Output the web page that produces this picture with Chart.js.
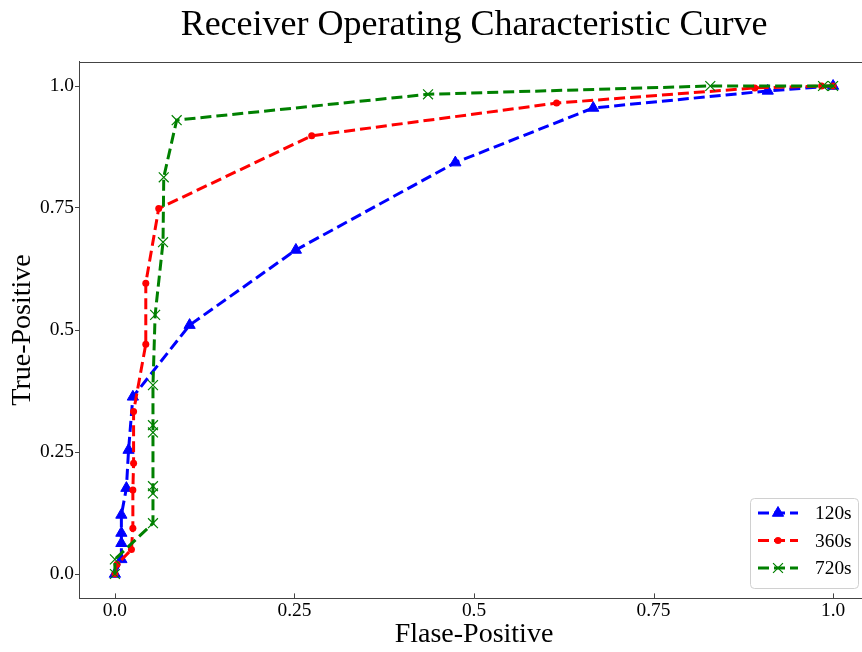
<!DOCTYPE html>
<html>
<head>
<meta charset="utf-8">
<script src="https://cdn.jsdelivr.net/npm/chart.js@4/dist/chart.umd.min.js"></script>
<style>
  html, body { margin: 0; padding: 0; background: #fff; overflow: hidden; }
  #wrap { width: 900px; height: 652px; }
</style>
</head>
<body>
<div id="wrap"><canvas id="roc" width="900" height="652"></canvas></div>
<script>
// ROC points
const fpr120 = [0, 0.009, 0.009, 0.009, 0.009, 0.016, 0.019, 0.025, 0.104, 0.252, 0.474, 0.666, 0.909, 1.0];
const tpr120 = [0, 0.03, 0.063, 0.084, 0.121, 0.176, 0.254, 0.363, 0.51, 0.664, 0.843, 0.955, 0.99, 1.0];

const fpr360 = [0, 0.003, 0.023, 0.025, 0.025, 0.026, 0.026, 0.043, 0.043, 0.061, 0.274, 0.615, 0.891, 0.984, 1.0];
const tpr360 = [0, 0.02, 0.05, 0.094, 0.172, 0.227, 0.333, 0.471, 0.596, 0.749, 0.898, 0.965, 0.996, 1.0, 1.0];

const fpr720 = [0, 0, 0.053, 0.053, 0.053, 0.053, 0.053, 0.053, 0.056, 0.067, 0.068, 0.086, 0.436, 0.829, 0.986, 1.0];
const tpr720 = [0, 0.03, 0.104, 0.165, 0.18, 0.29, 0.305, 0.387, 0.531, 0.68, 0.813, 0.93, 0.983, 1.0, 1.0, 1.0];

const seriesLabels = ['120s', '360s', '720s'];
const xTicks = [0, 0.25, 0.5, 0.75, 1.0];
const xTickLabels = ['0.0', '0.25', '0.5', '0.75', '1.0'];
const yTicks = [0, 0.25, 0.5, 0.75, 1.0];
const yTickLabels = ['0.0', '0.25', '0.5', '0.75', '1.0'];

const pts = (xs, ys) => xs.map((x, i) => ({ x: x, y: ys[i] }));

Chart.defaults.font.family = '"Liberation Serif", "Times New Roman", serif';
Chart.defaults.color = '#000';

const AXIS = '#444';
const DASH = [11, 5];

// top spine, inward x ticks, matplotlib style legend
const frameLegend = {
  id: 'frameLegend',
  afterDatasetsDraw(chart) {
    const ctx = chart.ctx;
    const a = chart.chartArea;
    ctx.save();
    ctx.strokeStyle = AXIS;
    ctx.lineWidth = 1;
    ctx.beginPath();
    ctx.moveTo(a.left, Math.round(a.top) + 0.5);
    ctx.lineTo(a.right, Math.round(a.top) + 0.5);
    const xs = chart.scales.x;
    xTicks.forEach(v => {
      const px = Math.round(xs.getPixelForValue(v)) + 0.5;
      ctx.moveTo(px, xs.top);
      ctx.lineTo(px, xs.top - 5);
    });
    ctx.stroke();

    // legend box
    const bx = 750.5, by = 498.5, bw = 108, bh = 90, r = 4;
    ctx.beginPath();
    ctx.moveTo(bx + r, by);
    ctx.arcTo(bx + bw, by, bx + bw, by + bh, r);
    ctx.arcTo(bx + bw, by + bh, bx, by + bh, r);
    ctx.arcTo(bx, by + bh, bx, by, r);
    ctx.arcTo(bx, by, bx + bw, by, r);
    ctx.closePath();
    ctx.fillStyle = 'rgba(255,255,255,0.8)';
    ctx.fill();
    ctx.strokeStyle = '#d0d0d0';
    ctx.stroke();

    const rows = [513, 540.5, 568];
    chart.data.datasets.forEach((ds, i) => {
      const y = rows[i];
      ctx.strokeStyle = ds.borderColor;
      ctx.lineWidth = ds.borderWidth;
      ctx.setLineDash(DASH);
      ctx.beginPath();
      ctx.moveTo(758, y);
      ctx.lineTo(798, y);
      ctx.stroke();
      ctx.setLineDash([]);
      const mx = 778;
      ctx.fillStyle = ds.pointBackgroundColor;
      ctx.strokeStyle = ds.pointBorderColor;
      ctx.lineWidth = ds.pointBorderWidth;
      const pr = ds.pointRadius;
      ctx.beginPath();
      if (ds.pointStyle === 'triangle') {
        ctx.moveTo(mx, y - pr);
        ctx.lineTo(mx + pr * 0.866, y + pr * 0.5);
        ctx.lineTo(mx - pr * 0.866, y + pr * 0.5);
        ctx.closePath();
        ctx.fill();
        ctx.stroke();
      } else if (ds.pointStyle === 'circle') {
        ctx.arc(mx, y, pr, 0, Math.PI * 2);
        ctx.fill();
      } else {
        const d = pr * 0.7071;
        ctx.moveTo(mx - d, y - d); ctx.lineTo(mx + d, y + d);
        ctx.moveTo(mx + d, y - d); ctx.lineTo(mx - d, y + d);
        ctx.stroke();
      }
      ctx.fillStyle = '#000';
      ctx.font = '19.4px "Liberation Serif", serif';
      ctx.textBaseline = 'middle';
      ctx.textAlign = 'left';
      ctx.fillText(ds.label, 815, y + 1);
    });
    ctx.restore();
  }
};

new Chart(document.getElementById('roc'), {
  type: 'scatter',
  data: {
    datasets: [
      {
        label: seriesLabels[0],
        data: pts(fpr120, tpr120),
        showLine: true, borderColor: '#0000ff', borderWidth: 3, borderDash: DASH,
        pointStyle: 'triangle', pointRadius: 6.5, pointBorderWidth: 1,
        pointBackgroundColor: '#0000ff', pointBorderColor: '#0000ff',
        order: 2
      },
      {
        label: seriesLabels[1],
        data: pts(fpr360, tpr360),
        showLine: true, borderColor: '#ff0000', borderWidth: 3, borderDash: DASH,
        pointStyle: 'circle', pointRadius: 3.5, pointBorderWidth: 0,
        pointBackgroundColor: '#ff0000', pointBorderColor: '#ff0000',
        order: 1
      },
      {
        label: seriesLabels[2],
        data: pts(fpr720, tpr720),
        showLine: true, borderColor: '#008000', borderWidth: 3, borderDash: DASH,
        pointStyle: 'crossRot', pointRadius: 7, pointBorderWidth: 1.2,
        pointBackgroundColor: '#008000', pointBorderColor: '#008000',
        order: 0
      }
    ]
  },
  options: {
    responsive: false,
    animation: false,
    events: [],
    layout: { padding: { left: 0, right: 31, top: 0, bottom: 0 } },
    plugins: {
      legend: { display: false },
      tooltip: { enabled: false },
      title: {
        display: true,
        fullSize: false,
        text: 'Receiver Operating Characteristic Curve',
        color: '#000',
        font: { size: 36, weight: 'normal', lineHeight: 1.2 },
        padding: { top: 4, bottom: 14.4 }
      }
    },
    scales: {
      x: {
        type: 'linear', min: -0.05, max: 1.05,
        afterBuildTicks: (s) => { s.ticks = xTicks.map(v => ({ value: v })); },
        afterFit: (s) => { s.height = 53.6; },
        ticks: {
          padding: 1,
          font: { size: 19.4 },
          callback: (v) => xTickLabels[xTicks.indexOf(v)]
        },
        grid: { drawOnChartArea: false, drawTicks: false, color: AXIS },
        border: { display: true, color: AXIS, width: 1 },
        title: {
          display: true, text: 'Flase-Positive', color: '#000',
          font: { size: 28, lineHeight: 1.2 }, padding: { top: 0, bottom: 0.5 }
        }
      },
      y: {
        type: 'linear', min: -0.05, max: 1.05,
        afterBuildTicks: (s) => { s.ticks = yTicks.map(v => ({ value: v })); },
        afterFit: (s) => { s.width = 79; },
        ticks: {
          padding: 1,
          font: { size: 19.4 },
          callback: (v) => yTickLabels[yTicks.indexOf(v)]
        },
        grid: { drawOnChartArea: false, drawTicks: true, tickLength: 4, color: AXIS },
        border: { display: true, color: AXIS, width: 1 },
        title: {
          display: true, text: 'True-Positive', color: '#000',
          font: { size: 28, lineHeight: 1.2 }, padding: { top: 6, bottom: 0 }
        }
      }
    }
  },
  plugins: [frameLegend]
});
</script>
</body>
</html>
